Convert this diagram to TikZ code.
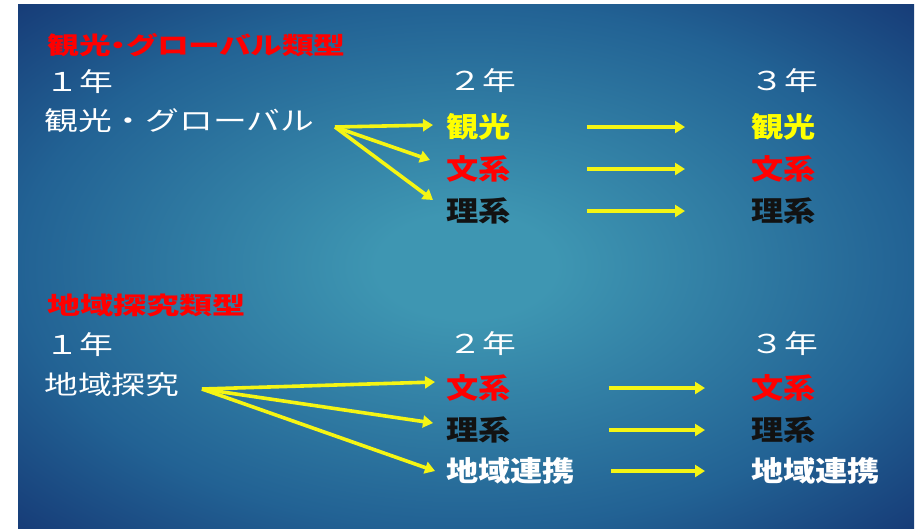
\documentclass[tikz,border=0pt]{standalone}
\usepackage{fontspec}
\setmainfont{Noto Sans CJK JP}[BoldFont={Noto Sans CJK JP Bold}]
\IfFontExistsTF{Noto Sans CJK JP Black}
  {\newfontfamily\heavyfont{Noto Sans CJK JP Black}
   \newfontfamily\titlefont{Noto Sans CJK JP Black}[RawFeature=+palt]}
  {\newfontfamily\heavyfont{Noto Sans CJK JP Bold}
   \newfontfamily\titlefont{Noto Sans CJK JP Bold}[RawFeature=+palt]}
\usetikzlibrary{arrows.meta}

\definecolor{glowin}{RGB}{62,150,178}
\definecolor{glowmid}{RGB}{34,98,148}
\definecolor{glowout}{RGB}{22,58,118}
\definecolor{flowyellow}{RGB}{245,245,20}
\definecolor{coyellow}{RGB}{255,255,0}
\definecolor{cored}{RGB}{255,0,0}
\definecolor{coblack}{RGB}{18,18,18}
\pgfdeclareradialshading{slideglow}{\pgfpointorigin}{color(0bp)=(glowin); color(5bp)=(glowin); color(25bp)=(glowmid); color(36bp)=(glowout); color(50bp)=(glowout)}

\begin{document}
\begin{tikzpicture}[x=1pt, y=-1pt,
  plain/.style={text=white, inner sep=0pt, xscale=1.3, font=\fontsize{26}{30}\selectfont},
  course/.style={inner sep=0pt, anchor=west, xscale=1.15, font=\fontsize{28}{32}\heavyfont},
  typetitle/.style={text=cored, inner sep=0pt, anchor=west, xscale=1.38, font=\fontsize{24}{28}\titlefont},
  flow/.style={draw=flowyellow, line width=3.6pt, -{Triangle[length=10pt, width=12pt]}}]

  \useasboundingbox (0,0) rectangle (917,528);
  \shade[shading=slideglow] (18,4) rectangle (914,528);

  % 観光・グローバル類型
  \node[typetitle, xscale=0.96] (titleA) at (47,45) {観光・グローバル類型};
  \node[plain] (yrA1) at (79,82) {１年};
  \node[plain, anchor=west] (srcA) at (44,121) {観光・グローバル};
  \node[plain] (yrA2) at (482,81) {２年};
  \node[plain] (yrA3) at (784,81) {３年};

  \node[course, text=coyellow] (kanA2) at (446,127) {観光};
  \node[course, text=cored] (bunA2) at (446,169) {文系};
  \node[course, text=coblack] (riA2) at (446,211) {理系};
  \node[course, text=coyellow] (kanA3) at (751,127) {観光};
  \node[course, text=cored] (bunA3) at (751,169) {文系};
  \node[course, text=coblack] (riA3) at (751,211) {理系};

  \coordinate (fanA) at (335,127);
  \draw[flow] (fanA) -- ([xshift=-13pt, yshift=2pt]kanA2.west);
  \draw[flow] (fanA) -- ([xshift=-16pt, yshift=9pt]bunA2.west);
  \draw[flow] (fanA) -- ([xshift=-13pt, yshift=11pt]riA2.west);
  \draw[flow, shorten <=76pt, shorten >=66pt] (kanA2) -- (kanA3);
  \draw[flow, shorten <=76pt, shorten >=66pt] (bunA2) -- (bunA3);
  \draw[flow, shorten <=76pt, shorten >=66pt] (riA2) -- (riA3);

  % 地域探究類型
  \node[typetitle] (titleB) at (47,305) {地域探究類型};
  \node[plain] (yrB1) at (79,345) {１年};
  \node[plain, anchor=west] (srcB) at (44,385) {地域探究};
  \node[plain] (yrB2) at (482,344) {２年};
  \node[plain] (yrB3) at (784,344) {３年};

  \node[course, text=cored] (bunB2) at (446,388) {文系};
  \node[course, text=coblack] (riB2) at (446,430) {理系};
  \node[course, text=white] (chiB2) at (446,471) {地域連携};
  \node[course, text=cored] (bunB3) at (751,388) {文系};
  \node[course, text=coblack] (riB3) at (751,430) {理系};
  \node[course, text=white] (chiB3) at (751,471) {地域連携};

  \coordinate (fanB) at (202,389);
  \draw[flow] (fanB) -- ([xshift=-11pt, yshift=6pt]bunB2.west);
  \draw[flow] (fanB) -- ([xshift=-13pt, yshift=7pt]riB2.west);
  \draw[flow] (fanB) -- ([xshift=-11pt]chiB2.west);
  \draw[flow, shorten <=98pt, shorten >=46pt] (bunB2) -- (bunB3);
  \draw[flow, shorten <=98pt, shorten >=46pt] (riB2) -- (riB3);
  \draw[flow, shorten <=36pt, shorten >=46pt] (chiB2) -- (chiB3);
\end{tikzpicture}
\end{document}
